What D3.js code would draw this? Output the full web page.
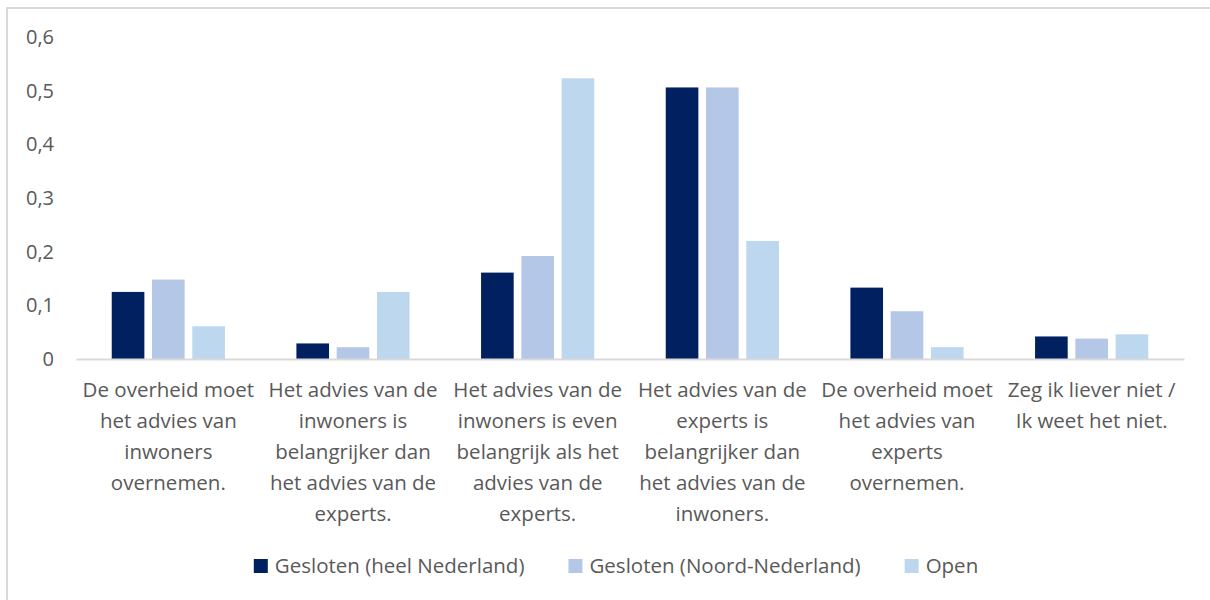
<!DOCTYPE html>
<html>
<head>
<meta charset="utf-8">
<script src="https://cdn.jsdelivr.net/npm/d3@7"></script>
<style>
  body { margin: 0; background: #fff; }
  svg text { font-family: "Open Sans", "Noto Sans", sans-serif; fill: #595959; }
</style>
</head>
<body>
<div id="chart"></div>
<script>
// categories, each one split in the lines shown under the axis
var categories = [
    ["De overheid moet", "het advies van", "inwoners", "overnemen."],
    ["Het advies van de", "inwoners is", "belangrijker dan", "het advies van de", "experts."],
    ["Het advies van de", "inwoners is even", "belangrijk als het", "advies van de", "experts."],
    ["Het advies van de", "experts is", "belangrijker dan", "het advies van de", "inwoners."],
    ["De overheid moet", "het advies van", "experts", "overnemen."],
    ["Zeg ik liever niet /", "Ik weet het niet."]
];
var series = ["Gesloten (heel Nederland)", "Gesloten (Noord-Nederland)", "Open"];
var colors = ["#002060", "#b4c7e7", "#bdd7ee"];

var heelNederland  = [0.125, 0.029, 0.161, 0.506, 0.133, 0.042];
var noordNederland = [0.148, 0.022, 0.192, 0.506, 0.089, 0.038];
var open           = [0.061, 0.125, 0.523, 0.220, 0.022, 0.046];
var yTicks = [0, 0.1, 0.2, 0.3, 0.4, 0.5, 0.6];

var values = [heelNederland, noordNederland, open];

var width = 1210, height = 600;
var plotLeft = 76, plotRight = 1184, plotTop = 37, base = 359;

var svg = d3.select("#chart").append("svg")
    .attr("width", width)
    .attr("height", height);

// chart frame (only top and left are visible)
svg.append("path")
    .attr("d", "M7,600V8H1210")
    .attr("fill", "none")
    .attr("stroke", "#d9d9d9")
    .attr("stroke-width", 2);

var nl = d3.formatLocale({decimal: ",", thousands: ".", grouping: [3], currency: ["€", ""]});

var x0 = d3.scaleBand()
    .domain(d3.range(categories.length))
    .range([plotLeft, plotRight]);

var groupW = x0.bandwidth() * 0.613;
var x1 = d3.scaleBand()
    .domain(d3.range(series.length))
    .range([0, groupW])
    .paddingInner(0.19);

var y = d3.scaleLinear()
    .domain([0, 0.6])
    .range([base, plotTop]);

// y axis, labels only
var yAxis = svg.append("g")
    .attr("transform", "translate(54,0)")
    .call(d3.axisLeft(y).tickValues(yTicks).tickSize(0).tickPadding(0).tickFormat(nl.format(".1~f")));
yAxis.select(".domain").remove();
yAxis.selectAll("text")
    .style("font-size", "20px")
    .style("font-family", null)
    .style("fill", "#595959");

// bars
var groups = svg.append("g").selectAll("g")
    .data(categories)
    .join("g")
    .attr("transform", function (d, i) { return "translate(" + (x0(i) + (x0.bandwidth() - groupW) / 2) + ",0)"; });

groups.selectAll("rect")
    .data(function (d, i) { return values.map(function (s, k) { return {k: k, v: s[i]}; }); })
    .join("rect")
    .attr("x", function (d) { return x1(d.k); })
    .attr("y", function (d) { return y(d.v); })
    .attr("width", x1.bandwidth())
    .attr("height", function (d) { return base - y(d.v); })
    .attr("fill", function (d) { return colors[d.k]; });

// x axis with wrapped labels
var xAxis = svg.append("g")
    .attr("transform", "translate(0," + base + ")")
    .call(d3.axisBottom(x0).tickSize(0).tickSizeOuter(0).tickFormat(""));
xAxis.select(".domain")
    .attr("stroke", "#d9d9d9")
    .attr("stroke-width", 2);
xAxis.selectAll(".tick text").remove();
xAxis.selectAll(".tick").append("text")
    .attr("text-anchor", "middle")
    .style("font-size", "20.5px")
    .style("fill", "#595959")
    .selectAll("tspan")
    .data(function (d) { return categories[d]; })
    .join("tspan")
    .attr("x", 0)
    .attr("y", function (d, i) { return 38 + i * 31; })
    .text(function (d) { return d; });

// legend
var legend = svg.append("g");
var items = legend.selectAll("g")
    .data(series)
    .join("g");
items.append("rect")
    .attr("width", 14)
    .attr("height", 14)
    .attr("y", -7)
    .attr("fill", function (d, i) { return colors[i]; });
items.append("text")
    .attr("x", 21)
    .attr("dy", "0.35em")
    .style("font-size", "20.5px")
    .text(function (d) { return d; });

var pos = 0;
items.each(function () {
    var w = 21 + d3.select(this).select("text").node().getComputedTextLength();
    d3.select(this).attr("transform", "translate(" + pos + ",0)");
    pos += w + 44;
});
pos -= 44;
legend.attr("transform", "translate(" + (616 - pos / 2) + ",566)");
</script>
</body>
</html>
